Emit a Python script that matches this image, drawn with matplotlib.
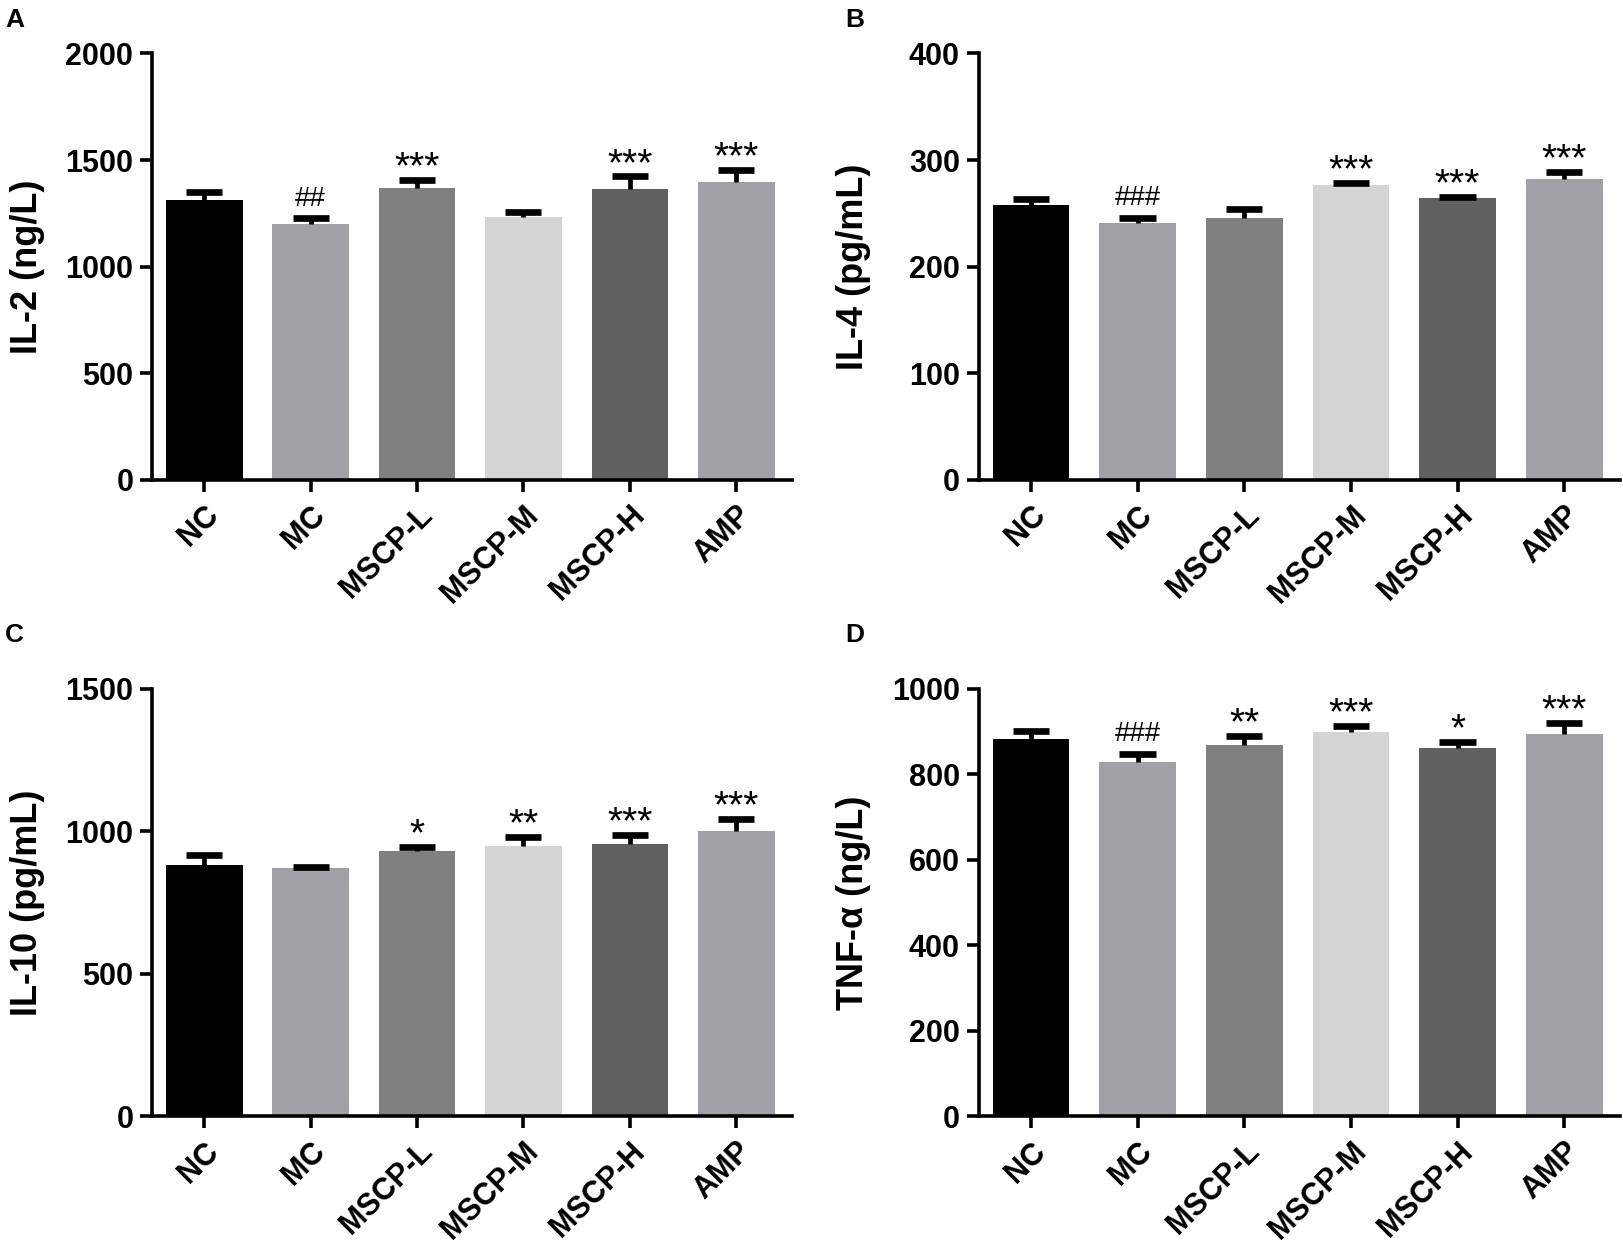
import numpy as np
import matplotlib
matplotlib.use('Agg')
import matplotlib.pyplot as plt

plt.rcParams['font.family'] = ['Liberation Sans', 'DejaVu Sans']

# groups and bar colours
groups = ['NC', 'MC', 'MSCP-L', 'MSCP-M', 'MSCP-H', 'AMP']
bar_colors = ['#000000', '#a0a0a6', '#808080', '#d4d4d4', '#606060', '#a0a0a6']

# A: IL-2 (ng/L)
il2_mean = [1313, 1202, 1367, 1232, 1364, 1395]
il2_err = [38, 24, 39, 22, 59, 58]
il2_sig = ['', '##', '***', '', '***', '***']

# B: IL-4 (pg/mL)
il4_mean = [258, 241, 246, 277, 264, 282]
il4_err = [5, 5, 8, 1.5, 1.5, 7]
il4_sig = ['', '###', '', '***', '***', '***']

# C: IL-10 (pg/mL)
il10_mean = [881, 872, 930, 949, 956, 1001]
il10_err = [35, 3, 16, 30, 31, 41]
il10_sig = ['', '', '*', '**', '***', '***']

# D: TNF-a (ng/L)
tnf_mean = [883, 828, 867, 898, 861, 894]
tnf_err = [18, 20, 23, 15, 14, 26]
tnf_sig = ['', '###', '**', '***', '*', '***']

panels = [
    ('A', [0.0937, 0.614, 0.394, 0.343], il2_mean, il2_err, il2_sig,
     'IL-2 (ng/L)', 2000, 500),
    ('B', [0.603, 0.614, 0.395, 0.343], il4_mean, il4_err, il4_sig,
     'IL-4 (pg/mL)', 400, 100),
    ('C', [0.0937, 0.102, 0.394, 0.344], il10_mean, il10_err, il10_sig,
     'IL-10 (pg/mL)', 1500, 500),
    ('D', [0.603, 0.102, 0.395, 0.344], tnf_mean, tnf_err, tnf_sig,
     'TNF-α (ng/L)', 1000, 200),
]
letter_pos = {'A': (0.003, 0.984), 'B': (0.521, 0.984),
              'C': (0.003, 0.489), 'D': (0.521, 0.489)}

fig = plt.figure(figsize=(16.23, 12.43), dpi=100)

for letter, rect, mean, err, sig, ylabel, ymax, ystep in panels:
    ax = fig.add_axes(rect)
    x = np.arange(len(groups))
    mean = np.array(mean, dtype=float)
    err = np.array(err, dtype=float)
    ax.bar(x, mean, width=0.72, color=bar_colors, zorder=2)

    # upper error bars only
    top = mean + err
    ax.vlines(x, mean, top, color='black', lw=3.4, zorder=3)
    ax.hlines(top, x - 0.17, x + 0.17, color='black', lw=4.8,
              capstyle='butt', zorder=3)

    for xi, yi, s in zip(x, top, sig):
        if not s:
            continue
        off = 9 if '#' in s else 1
        size = 20 if '#' in s else 28
        ax.annotate(s, (xi, yi), xytext=(0, off), textcoords='offset points',
                    ha='center', va='baseline', fontsize=size, zorder=4)

    ax.set_xlim(-0.49, 5.52)
    ax.set_ylim(0, ymax)
    ax.set_yticks(np.arange(0, ymax + 1, ystep))
    ax.set_xticks(x)
    ax.set_xticklabels(groups, rotation=45, ha='right', va='top',
                       rotation_mode='anchor', fontweight='bold')
    for t in ax.get_yticklabels():
        t.set_fontweight('bold')

    for sp in ['top', 'right']:
        ax.spines[sp].set_visible(False)
    for sp in ['left', 'bottom']:
        ax.spines[sp].set_linewidth(2.6)
    ax.tick_params(direction='out', length=8.5, width=2.6, labelsize=22,
                   pad=5)
    ax.tick_params(axis='x', labelsize=22, pad=6)

    ax.set_ylabel(ylabel, fontsize=26, fontweight='bold')
    ax.yaxis.set_label_coords(-0.168, 0.5)

    lx, ly = letter_pos[letter]
    fig.text(lx, ly, letter, fontsize=19, fontweight='bold',
             ha='left', va='center')

fig.savefig('out.png', dpi=100)
